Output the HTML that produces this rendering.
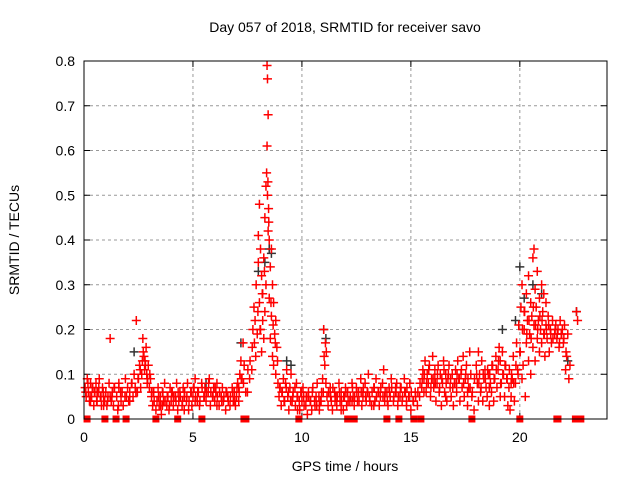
<!DOCTYPE html>
<html><head><meta charset="utf-8"><style>
body{margin:0;background:#fff;}
svg{display:block;font-family:"Liberation Sans",sans-serif;}
</style></head><body>
<svg id="chart" width="640" height="480">
<text x="345" y="32" text-anchor="middle" font-size="14" fill="#000">Day 057 of 2018, SRMTID for receiver savo</text>
<text x="345" y="471" text-anchor="middle" font-size="14" fill="#000">GPS time / hours</text>
<text transform="translate(19,240) rotate(-90)" text-anchor="middle" font-size="14" fill="#000">SRMTID / TECUs</text>
<g id="grid"></g><g id="ticks"></g><g id="marks"></g>
<rect x="84" y="61" width="523" height="358" fill="none" stroke="#000" stroke-width="1"/>
</svg>
<script>
const xTicks=[0,5,10,15,20];
const yTicks=[0,0.1,0.2,0.3,0.4,0.5,0.6,0.7,0.8];
const yTickLabels=["0","0.1","0.2","0.3","0.4","0.5","0.6","0.7","0.8"];
const zeroTimes=[0.14,0.96,1.47,1.93,3.3,4.3,5.41,7.34,7.43,9.86,12.1,12.4,13.9,14.45,15.14,15.46,17.8,20.0,21.7,21.75,22.55,22.8];
const darkTimes=[2.3,5.6,7.2,8.0,8.3,8.5,8.6,9.3,9.5,11.0,11.1,19.2,19.8,20.0,20.2,20.6,21.0,22.2,22.6];
const darkValues=[0.15,0.08,0.17,0.33,0.35,0.38,0.37,0.13,0.12,0.2,0.18,0.2,0.22,0.34,0.27,0.3,0.28,0.13,0.24];
const times=[
0.05,0.1,0.15,0.2,0.25,0.3,0.35,0.4,0.45,0.5,0.55,0.6,0.65,0.7,0.75,0.8,0.85,0.9,0.95,1.0,
1.05,1.1,1.15,1.2,1.25,1.3,1.35,1.4,1.5,1.55,1.6,1.7,1.75,1.8,1.9,1.95,2.0,2.05,2.1,2.2,
2.25,2.3,2.35,2.4,2.45,2.5,2.55,2.6,2.65,2.7,2.72,2.75,2.78,2.8,2.85,2.88,2.9,2.95,3.0,3.05,
3.1,3.15,3.2,3.3,3.35,3.4,3.45,3.5,3.55,3.6,3.65,3.7,3.8,3.85,3.9,3.95,4.0,4.05,4.1,4.2,
4.25,4.3,4.35,4.4,4.5,4.55,4.6,4.7,4.75,4.8,4.9,4.95,5.0,5.05,5.1,5.2,5.25,5.3,5.4,5.5,
5.55,5.6,5.7,5.75,5.8,5.9,5.95,6.0,6.05,6.1,6.2,6.3,6.35,6.4,6.5,6.55,6.6,6.7,6.8,6.85,
6.9,6.95,7.0,7.05,7.1,7.15,7.2,7.25,7.3,7.35,7.5,7.6,7.7,7.75,7.8,7.82,7.85,7.88,7.9,7.95,
8.0,8.0,8.05,8.05,8.1,8.1,8.15,8.15,8.2,8.2,8.25,8.25,8.3,8.3,8.35,8.35,8.38,8.4,8.4,8.42,
8.42,8.44,8.45,8.45,8.47,8.5,8.5,8.55,8.55,8.6,8.6,8.65,8.65,8.7,8.7,8.75,8.8,8.8,8.85,8.9,
8.95,9.0,9.05,9.1,9.15,9.2,9.25,9.3,9.35,9.4,9.45,9.5,9.55,9.6,9.7,9.75,9.8,9.9,9.95,10.0,
10.05,10.1,10.2,10.25,10.3,10.4,10.45,10.5,10.6,10.65,10.7,10.8,10.85,10.9,10.95,11.0,11.02,11.05,11.08,11.1,
11.15,11.2,11.3,11.35,11.4,11.5,11.55,11.6,11.7,11.75,11.8,11.9,11.95,12.0,12.05,12.1,12.2,12.3,12.35,12.4,
12.5,12.55,12.6,12.7,12.75,12.8,12.9,12.95,13.0,13.05,13.1,13.2,13.3,13.35,13.4,13.5,13.55,13.6,13.7,13.75,
13.8,13.9,13.95,14.0,14.05,14.1,14.2,14.3,14.35,14.4,14.5,14.55,14.6,14.7,14.75,14.8,14.9,14.95,15.0,15.1,
15.2,15.3,15.4,15.5,15.55,15.6,15.65,15.7,15.75,15.8,15.85,15.9,15.95,16.0,16.05,16.1,16.15,16.2,16.25,16.3,
16.35,16.4,16.45,16.5,16.55,16.6,16.65,16.7,16.75,16.8,16.85,16.9,16.95,17.0,17.05,17.1,17.15,17.2,17.25,17.3,
17.35,17.4,17.45,17.5,17.55,17.6,17.65,17.7,17.75,17.8,17.9,18.0,18.05,18.1,18.15,18.2,18.25,18.3,18.35,18.4,
18.45,18.5,18.55,18.6,18.65,18.7,18.75,18.8,18.85,18.9,18.95,19.0,19.05,19.1,19.15,19.2,19.25,19.3,19.35,19.4,
19.45,19.5,19.55,19.6,19.65,19.7,19.75,19.8,19.85,19.9,19.95,20.0,20.05,20.1,20.1,20.15,20.2,20.2,20.25,20.3,
20.3,20.35,20.4,20.4,20.45,20.5,20.5,20.55,20.6,20.6,20.65,20.65,20.7,20.7,20.75,20.8,20.8,20.85,20.9,20.9,
20.95,21.0,21.0,21.05,21.1,21.1,21.15,21.2,21.2,21.25,21.3,21.35,21.4,21.45,21.5,21.6,21.65,21.7,21.75,21.8,
21.85,21.9,21.95,22.0,22.05,22.1,22.15,22.2,22.25,22.3,22.6,22.65,
0.3,0.6,0.9,1.2,1.6,2.1,3.1,3.6,4.1,4.6,5.1,5.6,6.1,6.6,7.1,9.2,9.8,10.3,10.8,11.3,11.8,12.3,12.8,13.3,13.8,14.3,14.8,15.6,16.1,16.6,17.1,17.6,18.1,18.6,19.1,19.6,
0.08,0.18,0.28,0.38,0.48,0.58,0.68,0.78,0.88,1.08,1.28,1.38,1.58,1.68,1.88,2.08,2.18,2.38,2.48,2.58,2.68,2.82,2.92,3.02,3.12,
3.22,3.42,3.52,3.62,3.72,3.82,3.92,4.02,4.12,4.22,4.32,4.42,4.52,4.62,4.72,4.82,4.92,5.02,5.12,5.22,5.32,5.42,5.52,5.62,5.72,
5.82,5.92,6.02,6.12,6.22,6.32,6.42,6.52,6.62,6.72,6.82,6.92,7.02,7.12,7.22,7.32,7.42,7.52,7.62,7.72,7.98,8.08,8.18,8.28,8.48,
8.58,8.68,8.78,8.88,8.98,9.08,9.18,9.28,9.38,9.48,9.58,9.68,9.78,9.88,9.98,10.08,10.18,10.28,10.38,10.48,10.58,10.68,10.78,10.88,10.98,
11.12,11.22,11.32,11.42,11.52,11.62,11.72,11.82,11.92,12.02,12.12,12.22,12.32,12.42,12.52,12.62,12.72,12.82,12.92,13.02,13.12,13.22,13.32,13.42,13.52,
13.62,13.72,13.82,13.92,14.02,14.12,14.22,14.32,14.42,14.52,14.62,14.72,14.82,14.92,15.02,15.12,15.22,15.32,15.42,15.52,15.62,15.72,15.82,15.92,16.02,
16.12,16.22,16.32,16.42,16.52,16.62,16.72,16.82,16.92,17.02,17.12,17.22,17.32,17.42,17.52,17.62,17.72,17.82,17.92,18.02,18.12,18.22,18.32,18.42,18.52,
18.62,18.72,18.82,18.92,19.02,19.12,19.22,19.32,19.42,19.52,19.62,19.72,19.82,19.92,20.02,20.12,20.22,20.32,20.42,20.52,20.62,20.72,20.82,20.92,21.02,
21.12,21.22,21.32,21.42,21.52,21.62,21.72,21.82,21.92,22.02,22.12
];
const values=[
0.07,0.05,0.09,0.06,0.04,0.08,0.05,0.07,0.03,0.06,0.08,0.04,0.06,0.09,0.05,0.03,0.07,0.05,0.04,0.06,
0.03,0.05,0.08,0.18,0.04,0.06,0.03,0.07,0.05,0.02,0.08,0.04,0.06,0.03,0.09,0.05,0.07,0.04,0.06,0.08,
0.05,0.1,0.07,0.22,0.06,0.09,0.12,0.07,0.1,0.18,0.15,0.14,0.11,0.13,0.16,0.1,0.08,0.12,0.07,0.09,
0.05,0.03,0.06,0.02,0.04,0.07,0.03,0.05,0.01,0.06,0.04,0.08,0.03,0.05,0.02,0.07,0.04,0.06,0.03,0.05,
0.08,0.02,0.04,0.06,0.03,0.07,0.05,0.04,0.08,0.02,0.06,0.03,0.05,0.07,0.09,0.04,0.06,0.03,0.08,0.05,
0.07,0.04,0.06,0.09,0.03,0.05,0.07,0.04,0.06,0.08,0.03,0.05,0.07,0.04,0.02,0.06,0.05,0.03,0.07,0.04,
0.06,0.03,0.05,0.08,0.04,0.1,0.13,0.09,0.17,0.12,0.06,0.09,0.11,0.2,0.25,0.17,0.22,0.14,0.3,0.19,
0.41,0.35,0.48,0.26,0.38,0.2,0.32,0.15,0.28,0.22,0.36,0.18,0.45,0.24,0.52,0.3,0.55,0.79,0.61,0.76,
0.5,0.53,0.68,0.42,0.47,0.4,0.27,0.34,0.18,0.38,0.23,0.3,0.14,0.26,0.12,0.19,0.22,0.1,0.16,0.08,
0.05,0.07,0.03,0.06,0.09,0.04,0.08,0.11,0.05,0.02,0.07,0.1,0.04,0.06,0.03,0.08,0.05,0.02,0.06,0.04,
0.07,0.03,0.05,0.01,0.06,0.04,0.02,0.07,0.03,0.05,0.08,0.02,0.04,0.06,0.09,0.2,0.14,0.12,0.17,0.08,
0.05,0.03,0.07,0.04,0.02,0.06,0.05,0.03,0.08,0.04,0.06,0.02,0.05,0.07,0.03,0.06,0.04,0.08,0.05,0.03,
0.07,0.04,0.06,0.09,0.03,0.05,0.08,0.04,0.06,0.1,0.05,0.03,0.07,0.04,0.09,0.06,0.03,0.05,0.08,0.11,
0.04,0.06,0.03,0.07,0.05,0.09,0.04,0.06,0.08,0.03,0.05,0.07,0.04,0.09,0.06,0.03,0.05,0.08,0.02,0.04,
0.06,0.03,0.05,0.07,0.11,0.09,0.13,0.06,0.1,0.08,0.12,0.05,0.09,0.14,0.07,0.11,0.04,0.08,0.12,0.06,
0.1,0.03,0.08,0.13,0.06,0.1,0.04,0.09,0.12,0.07,0.05,0.1,0.03,0.08,0.11,0.06,0.13,0.09,0.04,0.1,
0.07,0.14,0.05,0.09,0.12,0.03,0.07,0.15,0.1,0.05,0.02,0.12,0.08,0.15,0.1,0.06,0.13,0.04,0.09,0.11,
0.07,0.05,0.1,0.03,0.08,0.06,0.12,0.04,0.09,0.14,0.07,0.11,0.16,0.13,0.08,0.15,0.1,0.05,0.12,0.09,
0.03,0.07,0.02,0.05,0.09,0.14,0.04,0.08,0.17,0.11,0.21,0.15,0.25,0.09,0.3,0.12,0.2,0.24,0.05,0.28,
0.17,0.22,0.13,0.32,0.19,0.26,0.1,0.23,0.36,0.16,0.38,0.21,0.29,0.13,0.25,0.33,0.18,0.22,0.27,0.15,
0.2,0.3,0.17,0.24,0.19,0.28,0.14,0.21,0.26,0.18,0.23,0.15,0.2,0.17,0.22,0.19,0.21,0.18,0.2,0.16,
0.22,0.19,0.2,0.17,0.21,0.11,0.14,0.19,0.09,0.12,0.24,0.22,
0.04,0.06,0.03,0.05,0.07,0.04,0.06,0.03,0.05,0.02,0.04,0.06,0.03,0.05,0.07,0.04,0.02,0.05,0.03,0.06,0.02,0.04,0.06,0.03,0.05,0.07,0.04,0.06,0.09,0.05,0.08,0.06,0.04,0.07,0.05,0.08,
0.06,0.08,0.05,0.07,0.06,0.04,0.07,0.05,0.06,0.04,0.05,0.07,0.03,0.06,0.05,0.04,0.08,0.06,0.09,0.11,0.13,0.12,0.09,0.1,0.06,
0.04,0.05,0.03,0.06,0.04,0.05,0.03,0.06,0.05,0.04,0.06,0.05,0.04,0.06,0.05,0.04,0.06,0.07,0.05,0.06,0.04,0.07,0.05,0.06,0.08,
0.06,0.05,0.07,0.05,0.06,0.04,0.05,0.06,0.04,0.05,0.06,0.04,0.07,0.06,0.09,0.08,0.06,0.11,0.13,0.16,0.24,0.2,0.28,0.33,0.44,
0.26,0.21,0.17,0.13,0.07,0.06,0.04,0.07,0.06,0.04,0.05,0.07,0.05,0.04,0.06,0.05,0.03,0.05,0.04,0.06,0.04,0.03,0.05,0.04,0.06,
0.15,0.06,0.05,0.07,0.04,0.05,0.06,0.04,0.05,0.06,0.04,0.05,0.07,0.05,0.06,0.04,0.06,0.07,0.05,0.06,0.04,0.06,0.07,0.05,0.06,
0.07,0.05,0.06,0.04,0.06,0.07,0.05,0.06,0.05,0.07,0.05,0.06,0.07,0.05,0.06,0.04,0.05,0.06,0.08,0.09,0.1,0.08,0.11,0.07,0.09,
0.08,0.1,0.07,0.09,0.11,0.08,0.1,0.09,0.07,0.08,0.1,0.09,0.11,0.08,0.1,0.09,0.07,0.06,0.09,0.1,0.08,0.07,0.1,0.09,0.11,
0.1,0.12,0.09,0.11,0.13,0.08,0.1,0.12,0.09,0.11,0.1,0.08,0.12,0.1,0.15,0.2,0.24,0.19,0.22,0.18,0.25,0.21,0.2,0.23,0.22,
0.19,0.2,0.21,0.19,0.18,0.2,0.19,0.17,0.19,0.18,0.15
];
const X0=84,X1=607,Y0=419,Y1=61,XMAX=24,YMAX=0.8;
function xs(t){return X0+(t/XMAX)*(X1-X0);}
function ys(v){return Y0-(v/YMAX)*(Y0-Y1);}
const NS="http://www.w3.org/2000/svg";
const grid=document.getElementById('grid'),ticks=document.getElementById('ticks'),marks=document.getElementById('marks');
function mk(tag,attrs,parent){const e=document.createElementNS(NS,tag);for(const k in attrs)e.setAttribute(k,attrs[k]);parent.appendChild(e);return e;}
yTicks.forEach((v,i)=>{
  const y=ys(v);
  if(v>0&&v<YMAX){const g=mk('line',{x1:X0,x2:X1,y1:y,y2:y,stroke:'#999','stroke-dasharray':'3,3'},grid);
  
  }
  const tl=mk('line',{x1:X0,x2:X0+6,y1:y,y2:y,stroke:'#000'},ticks);
  
  
  mk('line',{x1:X1,x2:X1-6,y1:y,y2:y,stroke:'#000'},ticks);
  const t=mk('text',{x:X0-9,y:y+5,'text-anchor':'end','font-size':'14'},ticks);
  t.textContent=yTickLabels[i];
  
  
});
xTicks.forEach(v=>{
  const x=xs(v);
  if(v>0){const g=mk('line',{x1:x,x2:x,y1:Y0,y2:Y1,stroke:'#999','stroke-dasharray':'3,3'},grid);
  
  }
  const tl=mk('line',{x1:x,x2:x,y1:Y0,y2:Y0-6,stroke:'#000'},ticks);
  
  
  mk('line',{x1:x,x2:x,y1:Y1,y2:Y1+6,stroke:'#000'},ticks);
  const t=mk('text',{x:x,y:Y0+23,'text-anchor':'middle','font-size':'14'},ticks);
  t.textContent=String(v);
  
  
});
function plus(t,v,col,name){
  const x=xs(t),y=ys(v);
  const p=mk('path',{d:`M${x-4.5},${y}H${x+4.5}M${x},${y-4.5}V${y+4.5}`,stroke:col,'stroke-width':'1.5',fill:'none'},marks);
  
  
}
darkTimes.forEach((t,i)=>plus(t,darkValues[i],'#333','srmtid-point-dark'));
times.forEach((t,i)=>plus(t,values[i],'#f00','srmtid-point'));
zeroTimes.forEach(t=>{
  const r=mk('rect',{x:xs(t)-3.5,y:Y0-3.5,width:7,height:7,fill:'#f00'},marks);
  
  
});
</script>
</body></html>
